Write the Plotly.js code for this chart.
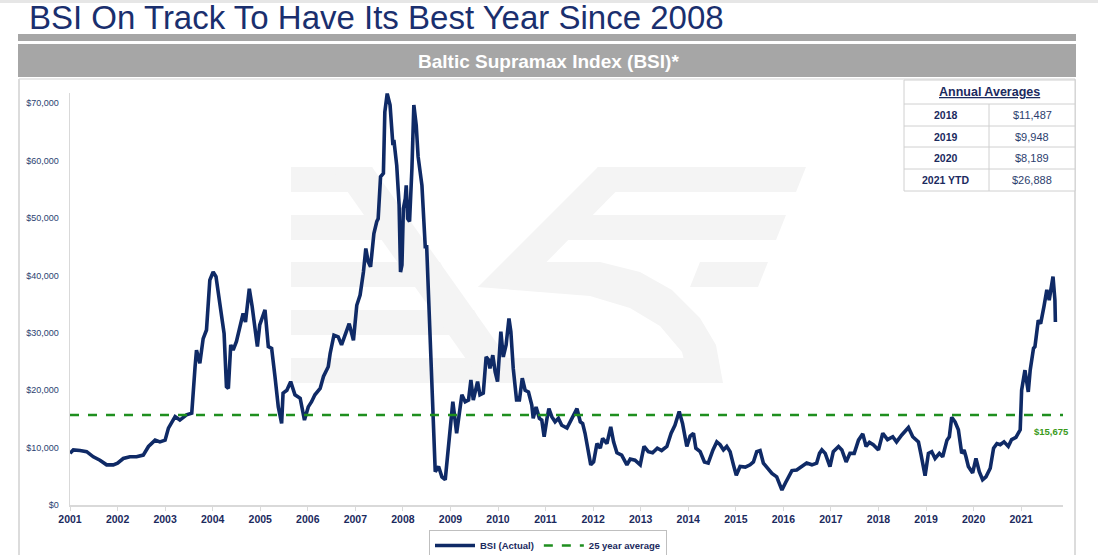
<!DOCTYPE html>
<html>
<head>
<meta charset="utf-8">
<script src="https://cdn.plot.ly/plotly-3.0.1.min.js"></script>
<style>
  html, body { margin: 0; padding: 0; background: #ffffff; }
  #chart { width: 1098px; height: 555px; }
</style>
</head>
<body>
<div id="chart"></div>
<script>
// ---------------- DATA ----------------
var pageTitle = 'BSI On Track To Have Its Best Year Since 2008';
var chartTitle = 'Baltic Supramax Index (BSI)*';
var seriesName = 'BSI (Actual)';
var avgName = '25 year average';
var avgLevel = 15675;
var avgLabel = '$15,675';

var bsiYears = [
  2001.00, 2001.07, 2001.21, 2001.35, 2001.49, 2001.63, 2001.77, 2001.91, 2002.00, 2002.12,
  2002.26, 2002.40, 2002.54, 2002.65, 2002.79, 2002.89, 2003.00, 2003.07, 2003.21, 2003.31,
  2003.45, 2003.56, 2003.63, 2003.66, 2003.73, 2003.80, 2003.87, 2003.94, 2004.01, 2004.07,
  2004.15, 2004.24, 2004.29, 2004.33, 2004.38, 2004.43, 2004.50, 2004.57, 2004.64, 2004.69,
  2004.77, 2004.83, 2004.87, 2004.94, 2004.99, 2005.10, 2005.17, 2005.24, 2005.31, 2005.38,
  2005.45, 2005.48, 2005.56, 2005.64, 2005.73, 2005.84, 2005.93, 2006.01, 2006.08, 2006.15,
  2006.26, 2006.33, 2006.43, 2006.47, 2006.55, 2006.64, 2006.71, 2006.78, 2006.87, 2006.96,
  2007.03, 2007.10, 2007.17, 2007.22, 2007.27, 2007.32, 2007.39, 2007.45, 2007.48, 2007.53,
  2007.59, 2007.62, 2007.67, 2007.73, 2007.79, 2007.81, 2007.87, 2007.92, 2007.95, 2007.98,
  2008.01, 2008.05, 2008.07, 2008.10, 2008.14, 2008.19, 2008.23, 2008.28, 2008.32, 2008.40,
  2008.47, 2008.50, 2008.54, 2008.57, 2008.63, 2008.68, 2008.75, 2008.82, 2008.89, 2008.99,
  2009.05, 2009.13, 2009.20, 2009.24, 2009.31, 2009.38, 2009.43, 2009.48, 2009.57, 2009.62,
  2009.69, 2009.75, 2009.80, 2009.83, 2009.89, 2009.94, 2009.99, 2010.06, 2010.11, 2010.17,
  2010.23, 2010.27, 2010.32, 2010.39, 2010.45, 2010.51, 2010.57, 2010.64, 2010.71, 2010.74,
  2010.80, 2010.87, 2010.92, 2010.97, 2011.03, 2011.07, 2011.13, 2011.20, 2011.27, 2011.34,
  2011.45, 2011.53, 2011.66, 2011.73, 2011.78, 2011.83, 2011.88, 2011.95, 2012.01, 2012.08,
  2012.15, 2012.20, 2012.29, 2012.37, 2012.43, 2012.50, 2012.60, 2012.71, 2012.78, 2012.88,
  2012.99, 2013.07, 2013.16, 2013.25, 2013.35, 2013.44, 2013.55, 2013.64, 2013.72, 2013.81,
  2013.88, 2013.93, 2013.97, 2014.04, 2014.11, 2014.16, 2014.25, 2014.34, 2014.42, 2014.52,
  2014.60, 2014.67, 2014.74, 2014.81, 2014.88, 2014.95, 2015.01, 2015.09, 2015.20, 2015.30,
  2015.37, 2015.44, 2015.51, 2015.58, 2015.65, 2015.76, 2015.86, 2015.97, 2016.04, 2016.11,
  2016.18, 2016.28, 2016.39, 2016.49, 2016.60, 2016.70, 2016.76, 2016.81, 2016.88, 2016.98,
  2017.05, 2017.16, 2017.23, 2017.32, 2017.40, 2017.49, 2017.58, 2017.67, 2017.74, 2017.81,
  2017.89, 2018.00, 2018.09, 2018.19, 2018.30, 2018.38, 2018.49, 2018.63, 2018.72, 2018.84,
  2018.89, 2018.98, 2019.05, 2019.12, 2019.19, 2019.28, 2019.35, 2019.44, 2019.49, 2019.54,
  2019.61, 2019.68, 2019.75, 2019.80, 2019.84, 2019.89, 2019.98, 2020.05, 2020.12, 2020.19,
  2020.26, 2020.35, 2020.42, 2020.49, 2020.56, 2020.64, 2020.73, 2020.80, 2020.89, 2020.98,
  2021.01, 2021.08, 2021.15, 2021.19, 2021.26, 2021.29, 2021.36, 2021.41, 2021.48, 2021.54,
  2021.59, 2021.63, 2021.67, 2021.71, 2021.72
];
var bsiValues = [
  9000, 9600, 9500, 9300, 8400, 7800, 7000, 7000, 7300, 8100,
  8400, 8400, 8700, 10200, 11300, 11000, 11300, 13400, 15400, 14800,
  15700, 16000, 24100, 27000, 24700, 29000, 30500, 39200, 40600, 39800,
  35100, 29900, 20600, 20300, 27900, 27000, 28500, 30800, 33400, 31900,
  37700, 34600, 31600, 27600, 31400, 34000, 27600, 27300, 22400, 17100,
  14200, 19500, 20000, 21500, 19200, 18600, 14800, 17100, 18000, 19200,
  20300, 22400, 24100, 26400, 29600, 29300, 27900, 29600, 31600, 28700,
  34800, 36600, 40600, 44700, 42400, 41500, 47300, 49400, 49900, 57200,
  57800, 68500, 71700, 69700, 62700, 63600, 59200, 52300, 40600, 41800,
  51700, 53400, 55700, 49900, 49400, 58700, 69700, 66200, 60700, 55700,
  45000, 45000, 35400, 31900, 15100, 5800, 6700, 4900, 4400, 12800,
  18000, 12500, 16600, 19200, 18000, 18300, 21800, 18300, 21500, 19200,
  19500, 25800, 25300, 23800, 26100, 23200, 21500, 30200, 25800, 27900,
  32500, 30200, 23800, 18300, 18300, 22100, 20000, 19700, 17400, 15100,
  17100, 15100, 14800, 11900, 15100, 16800, 15400, 14500, 15100, 13900,
  13400, 14800, 16800, 14500, 14200, 12500, 10500, 7000, 7500, 10700,
  9900, 11600, 10700, 13600, 11000, 9100, 8700, 7000, 8000, 7800,
  7000, 10200, 9300, 9100, 9900, 9500, 10200, 12500, 13900, 16300,
  14200, 12200, 10200, 12000, 12500, 9900, 9300, 7500, 7300, 9600,
  11000, 10500, 9600, 10200, 9300, 7000, 5200, 6700, 6600, 7000,
  7500, 9300, 9500, 7300, 6600, 5500, 4900, 2600, 3800, 4800,
  6000, 6100, 6800, 7300, 7000, 7300, 9000, 9600, 9000, 6700,
  9300, 10200, 9600, 7500, 9000, 9000, 11300, 12400, 10200, 10900,
  10500, 9600, 12500, 11400, 11900, 11000, 12200, 13500, 11900, 11000,
  9000, 5100, 9000, 9300, 8100, 9000, 8400, 11300, 11900, 15300,
  14500, 13100, 9000, 9600, 8400, 6700, 5600, 8100, 5800, 4400,
  4900, 6400, 9900, 10700, 10500, 11000, 10200, 11400, 11800, 13100,
  20000, 23500, 19700, 23500, 27300, 27600, 32200, 31600, 34600, 37500,
  35700, 37700, 39800, 35700, 31900
];

var xTickVals = [2001,2002,2003,2004,2005,2006,2007,2008,2009,2010,2011,2012,2013,2014,2015,2016,2017,2018,2019,2020,2021];
var xTickText = ['2001','2002','2003','2004','2005','2006','2007','2008','2009','2010','2011','2012','2013','2014','2015','2016','2017','2018','2019','2020','2021'];
var yTickVals = [0,10000,20000,30000,40000,50000,60000,70000];
var yTickText = ['$0','$10,000','$20,000','$30,000','$40,000','$50,000','$60,000','$70,000'];

var tableTitle = 'Annual Averages';
var avgYears = ['2018','2019','2020','2021 YTD'];
var avgValues = ['$11,487','$9,948','$8,189','$26,888'];

// ---------------- LAYOUT HELPERS ----------------
var W = 1098, H = 555;
var PL = 70, PR = 1063, PT = 93, PB = 505;
function fx(p) { return (p - PL) / (PR - PL); }
function fy(p) { return (PB - p) / (PB - PT); }
function rect(x0, y0, x1, y1, fill, line, layer) {
  return { type: 'rect', xref: 'paper', yref: 'paper', x0: fx(x0), x1: fx(x1), y0: fy(y1), y1: fy(y0),
           fillcolor: fill || 'rgba(0,0,0,0)', line: line || { width: 0 }, layer: layer || 'above' };
}
function lineS(x0, y0, x1, y1, color, w) {
  return { type: 'line', xref: 'paper', yref: 'paper', x0: fx(x0), x1: fx(x1), y0: fy(y0), y1: fy(y1),
           line: { color: color, width: w }, layer: 'above' };
}
function poly(pts, fill) {
  var d = 'M' + pts.map(function (p) { return fx(p[0]).toFixed(5) + ',' + fy(p[1]).toFixed(5); }).join(' L') + ' Z';
  return { type: 'path', xref: 'paper', yref: 'paper', path: d, fillcolor: fill, line: { width: 0 }, layer: 'below' };
}

var FONT = 'Liberation Sans, Arial, Helvetica, sans-serif';
var NAVY = '#0f2a66';
var TXT = '#1b2a5e';
var GREEN = '#1f8f1f';
var WM = '#f4f4f4';

var shapes = [];
// watermark (faint logo)
shapes.push(poly([[291,167],[372,167],[384,192],[291,192]], WM));
shapes.push(poly([[291,215],[405,215],[418,240],[291,240]], WM));
shapes.push(poly([[291,262],[440,262],[452,287],[291,287]], WM));
shapes.push(poly([[291,310],[474,310],[486,335],[291,335]], WM));
shapes.push(poly([[291,358],[690,358],[705,362],[716,370],[723,383],[291,383]], WM));
shapes.push(poly([[330,167],[372,167],[525,383],[483,383]], WM));
shapes.push(poly([[598,167],[806,167],[796,192],[580,192]], WM));
shapes.push(poly([[598,167],[640,167],[522,287],[478,287]], WM));
shapes.push(poly([[585,215],[786,215],[776,240],[560,240],[566,226]], WM));
shapes.push(poly([[700,262],[768,262],[758,287],[690,287]], WM));
shapes.push(poly([[522,262],[600,262],[640,272],[672,290],[700,318],[716,345],[723,383],[690,383],[682,352],[660,326],[630,308],[590,296],[478,287]], WM));

// page decorations
shapes.push(rect(0, 0, 1098, 3, '#e6e6e6'));
shapes.push(rect(18, 34, 1076, 41, '#a6a6a6'));
shapes.push(rect(18, 44, 1076, 77, '#a6a6a6'));
shapes.push(lineS(19, 79, 1075, 79, '#e2e2e2', 1.5));
shapes.push(lineS(19, 79, 19, 560, '#dcdcdc', 2));
shapes.push(lineS(1075, 79, 1075, 560, '#dcdcdc', 2));

// table
shapes.push(rect(904, 80, 1075, 191, '#ffffff', { color: '#d0d0d0', width: 1 }));
[104, 126, 147, 169].forEach(function (yy) { shapes.push(lineS(904, yy, 1075, yy, '#d0d0d0', 1)); });
shapes.push(lineS(989, 104, 989, 191, '#d0d0d0', 1));

var annotations = [];
annotations.push({ xref: 'paper', yref: 'paper', x: fx(27), y: fy(17.5), xanchor: 'left', yanchor: 'middle',
  text: pageTitle, showarrow: false, font: { family: FONT, size: 33, color: '#1a2f6e' } });
annotations.push({ xref: 'paper', yref: 'paper', x: fx(548), y: fy(61), xanchor: 'center', yanchor: 'middle',
  text: chartTitle, showarrow: false, font: { family: FONT, size: 19, color: '#ffffff', weight: 'bold' } });
annotations.push({ xref: 'paper', yref: 'paper', x: fx(989), y: fy(92), xanchor: 'center', yanchor: 'middle',
  text: '<u>' + tableTitle + '</u>', showarrow: false, font: { family: FONT, size: 12.5, color: TXT, weight: 'bold' } });
var rowY = [115, 136.5, 158, 180];
for (var i = 0; i < avgYears.length; i++) {
  annotations.push({ xref: 'paper', yref: 'paper', x: fx(946), y: fy(rowY[i]), xanchor: 'center', yanchor: 'middle',
    text: avgYears[i], showarrow: false, font: { family: FONT, size: 10.5, color: TXT, weight: 'bold' } });
  annotations.push({ xref: 'paper', yref: 'paper', x: fx(1032), y: fy(rowY[i]), xanchor: 'center', yanchor: 'middle',
    text: avgValues[i], showarrow: false, font: { family: FONT, size: 11, color: '#2c3e6e' } });
}
annotations.push({ xref: 'paper', yref: 'paper', x: fx(1051), y: fy(431), xanchor: 'center', yanchor: 'middle',
  text: avgLabel, showarrow: false, font: { family: FONT, size: 9.5, color: '#3a9a1a', weight: 'bold' } });

var xEnd = 2021.88;
var traces = [
  { type: 'scatter', mode: 'lines', name: seriesName, x: bsiYears, y: bsiValues,
    line: { color: NAVY, width: 3.6, shape: 'linear' }, hoverinfo: 'x+y' },
  { type: 'scatter', mode: 'lines', name: avgName, x: [2001, xEnd], y: [avgLevel, avgLevel],
    line: { color: GREEN, width: 2.5, dash: 'dash' }, hoverinfo: 'y' }
];

var layout = {
  width: W, height: H,
  margin: { l: PL, r: W - PR, t: PT, b: H - PB, pad: 0, autoexpand: false },
  paper_bgcolor: '#ffffff', plot_bgcolor: 'rgba(0,0,0,0)',
  font: { family: FONT },
  showlegend: true,
  legend: { orientation: 'h', x: fx(548), xanchor: 'center', y: fy(530), yanchor: 'top',
            bordercolor: '#bfbfbf', borderwidth: 1, bgcolor: '#ffffff',
            font: { family: FONT, size: 9.5, color: TXT, weight: 'bold' }, itemwidth: 40 },
  xaxis: { range: [2001, xEnd], tickvals: xTickVals, ticktext: xTickText, showgrid: false, zeroline: false,
           showline: true, linecolor: '#d9d9d9', linewidth: 1.5, ticks: 'outside', ticklen: 4, tickcolor: '#d9d9d9',
           tickfont: { family: FONT, size: 10.5, color: TXT, weight: 'bold' }, fixedrange: true, automargin: false },
  yaxis: { range: [0, 71800], tickvals: yTickVals, ticktext: yTickText, showgrid: false, zeroline: false,
           showline: true, linecolor: '#d9d9d9', linewidth: 1.5, ticks: '', ticklabelstandoff: 8,
           tickfont: { family: FONT, size: 9, color: '#2b4170' }, fixedrange: true, automargin: false },
  shapes: shapes,
  annotations: annotations
};

Plotly.newPlot('chart', traces, layout, { displayModeBar: false, staticPlot: true });
</script>
</body>
</html>
